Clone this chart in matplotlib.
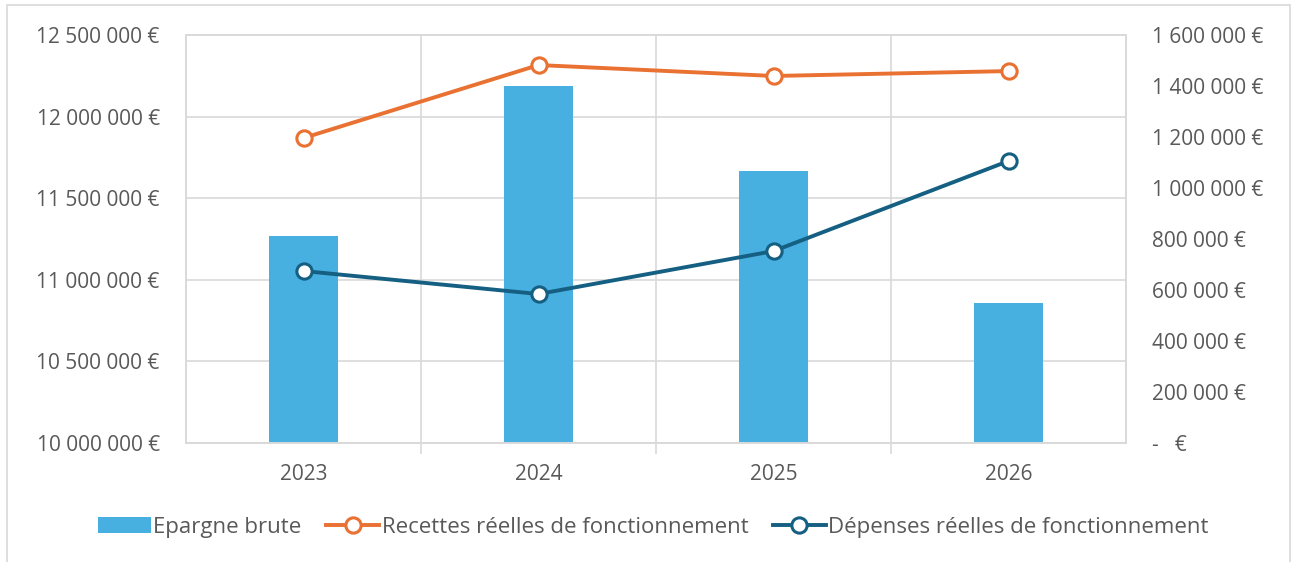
import matplotlib
matplotlib.use("Agg")
import matplotlib.pyplot as plt
from matplotlib.patches import Rectangle
from matplotlib.ticker import FuncFormatter, MultipleLocator, FixedLocator

years = ["2023", "2024", "2025", "2026"]
epargne = [812000, 1400000, 1068000, 550000]
recettes = [11869000, 12316000, 12249000, 12279000]
depenses = [11054000, 10913000, 11176000, 11728000]

BAR_C = "#47B0E0"
ORANGE = "#E97132"
DBLUE = "#156082"
GRID = "#D9D9D9"
TXT = "#595959"

plt.rcParams["font.family"] = ["Open Sans", "DejaVu Sans"]


def fmt_eur(v, pos=None):
    if abs(v) < 1e-6:
        return "-   €"
    return f"{int(round(v)):,}".replace(",", " ") + " €"


fig = plt.figure(figsize=(12.91, 5.62), dpi=100)
fig.patches.append(Rectangle((0.0055, -0.01), 0.994, 1.001, transform=fig.transFigure,
                             fill=False, edgecolor=GRID, linewidth=1.2))

ax = fig.add_axes([0.1441, 0.2117, 0.7281, 0.726])
ax2 = ax.twinx()

x = list(range(len(years)))

# bars on the secondary (right) axis
ax2.bar(x, epargne, width=0.29, color=BAR_C, zorder=2, label="Epargne brute")
ax2.set_ylim(0, 1600000)
ax2.yaxis.set_major_locator(MultipleLocator(200000))
ax2.yaxis.set_major_formatter(FuncFormatter(fmt_eur))

# lines on the primary (left) axis, drawn above the bars
ax.set_zorder(ax2.get_zorder() + 1)
ax.patch.set_visible(False)
ax.plot(x, recettes, color=ORANGE, lw=2.8, marker="o", ms=11, mfc="white", mec=ORANGE,
        mew=2.2, label="Recettes réelles de fonctionnement", zorder=4)
ax.plot(x, depenses, color=DBLUE, lw=2.8, marker="o", ms=11, mfc="white", mec=DBLUE,
        mew=2.2, label="Dépenses réelles de fonctionnement", zorder=4)
ax.set_ylim(10000000, 12500000)
ax.yaxis.set_major_locator(MultipleLocator(500000))
ax.yaxis.set_major_formatter(FuncFormatter(fmt_eur))

ax.set_xlim(-0.5, len(years) - 0.5)
ax.set_xticks(x)
ax.set_xticklabels(years)
ax.xaxis.set_minor_locator(FixedLocator([0.5, 1.5, 2.5]))

# grid: horizontal lines at the left axis ticks, vertical lines between categories
for v in range(10000000, 12500001, 500000):
    ax2.axhline((v - 10000000) / 2500000 * 1600000, color=GRID, lw=1.2, zorder=1)
for xb in [0.5, 1.5, 2.5]:
    ax2.axvline(xb, color=GRID, lw=1.2, zorder=1)

for a in (ax, ax2):
    for s in a.spines.values():
        s.set_color(GRID)
        s.set_linewidth(1.2)
    a.tick_params(axis="y", length=0, colors=TXT, labelsize=15)
ax.tick_params(axis="y", pad=19)
ax2.tick_params(axis="y", pad=19)
ax.tick_params(axis="x", which="major", length=0, colors=TXT, labelsize=15, pad=15)
ax.tick_params(axis="x", which="minor", length=8, color=GRID, width=1.2)
for lbl in ax2.get_yticklabels():
    lbl.set_horizontalalignment("left")

h2, l2 = ax2.get_legend_handles_labels()
h1, l1 = ax.get_legend_handles_labels()
fig.legend(h2 + h1, l2 + l1, loc="center", bbox_to_anchor=(0.506, 0.062), ncol=3,
           frameon=False, handlelength=2.4, handleheight=0.7, handletextpad=0.1,
           columnspacing=1.1, labelcolor=TXT, prop={"size": 16})

fig.savefig("out.png", dpi=100)
